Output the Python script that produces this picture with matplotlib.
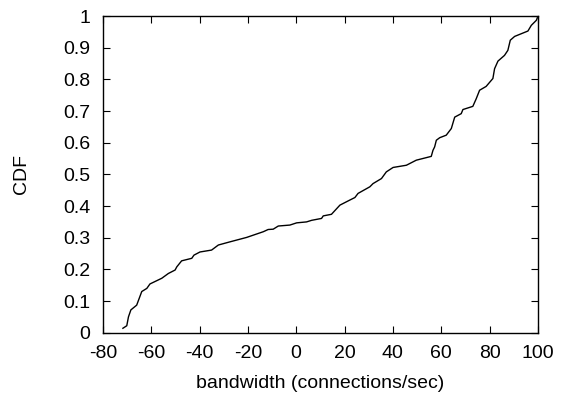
import matplotlib
matplotlib.use("Agg")
import matplotlib.pyplot as plt

bandwidth = [-71.7, -70.1, -69.4, -68.4, -66.0, -63.9, -61.8, -60.5, -55.6, -52.9,
             -50.1, -49.4, -47.4, -43.2, -42.3, -39.8, -35.0, -32.2, -27.4, -20.5,
             -13.6, -11.6, -9.5, -7.4, -2.6, 0.2, 4.3, 6.4, 10.5, 11.2,
             14.6, 18.1, 22.2, 24.3, 25.6, 30.5, 31.8, 35.3, 37.3, 40.1,
             45.6, 49.7, 55.9, 56.6, 57.3, 58.0, 59.4, 62.1, 64.2, 65.6,
             68.3, 69.0, 73.1, 74.5, 75.9, 78.6, 81.4, 82.1, 83.5, 86.2,
             87.6, 88.6, 90.4, 95.9, 97.3, 99.4, 99.8]
cdf = [0.014, 0.022, 0.050, 0.072, 0.087, 0.130, 0.140, 0.154, 0.172, 0.187,
       0.198, 0.208, 0.227, 0.235, 0.245, 0.255, 0.261, 0.277, 0.287, 0.301,
       0.319, 0.326, 0.327, 0.337, 0.340, 0.347, 0.350, 0.355, 0.361, 0.369,
       0.374, 0.403, 0.419, 0.427, 0.440, 0.461, 0.471, 0.487, 0.508, 0.522,
       0.529, 0.545, 0.557, 0.576, 0.587, 0.608, 0.616, 0.624, 0.645, 0.681,
       0.692, 0.705, 0.715, 0.739, 0.766, 0.778, 0.803, 0.834, 0.858, 0.876,
       0.892, 0.924, 0.936, 0.953, 0.971, 0.987, 0.995]
xticks = [-80, -60, -40, -20, 0, 20, 40, 60, 80, 100]
yticks = [0, 0.1, 0.2, 0.3, 0.4, 0.5, 0.6, 0.7, 0.8, 0.9, 1]
ytick_labels = ["0", "0.1", "0.2", "0.3", "0.4", "0.5", "0.6", "0.7", "0.8", "0.9", "1"]

plt.rcParams['font.family'] = ['Liberation Sans', 'DejaVu Sans']
plt.rcParams['font.size'] = 14
plt.rcParams['axes.unicode_minus'] = False

fig = plt.figure(figsize=(5.62, 3.94), dpi=100)
ax = fig.add_axes([0.183, 0.1556, 0.774, 0.8034])
ax.plot(bandwidth, cdf, color='black', linewidth=1.0)
ax.set_xlim(-80, 100)
ax.set_ylim(0, 1)
ax.set_xticks(xticks)
ax.set_yticks(yticks)
ax.set_yticklabels(ytick_labels)
ax.tick_params(direction='in', top=True, right=True, length=5, width=0.8)
ax.tick_params(axis='x', pad=9)
ax.tick_params(axis='y', pad=9)
for s in ax.spines.values():
    s.set_linewidth(1.0)
ax.set_xlabel("bandwidth (connections/sec)", labelpad=9)
ax.set_ylabel("CDF", labelpad=24)
fig.savefig("out.png", dpi=100)
